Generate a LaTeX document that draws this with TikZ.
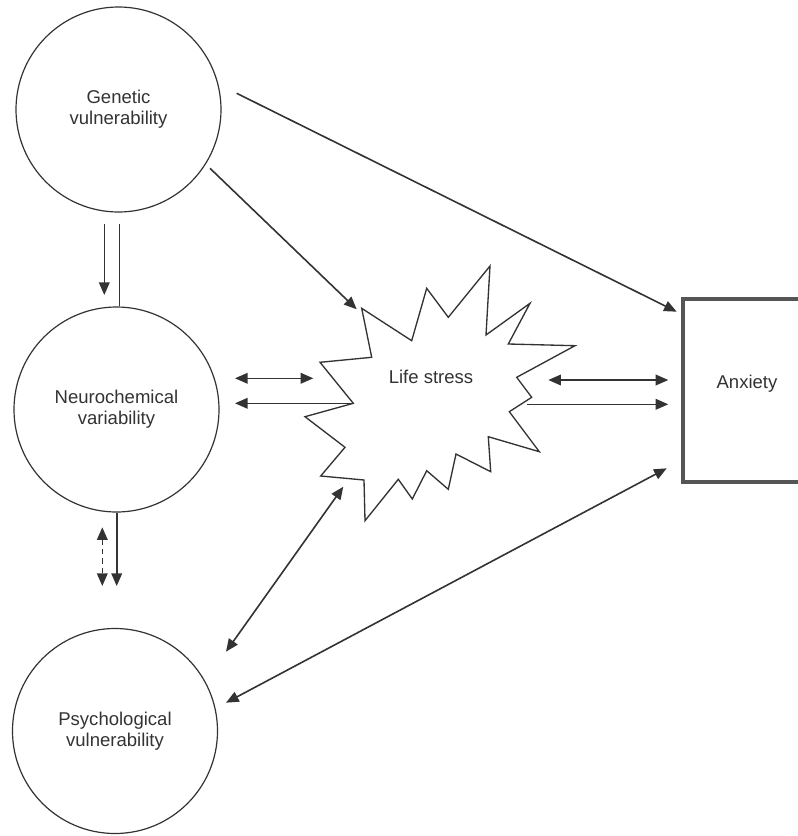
\documentclass[tikz,border=0pt]{standalone}
\usepackage{fontspec}
\setmainfont{Liberation Sans}
\usetikzlibrary{arrows.meta}
\definecolor{ink}{HTML}{333333}
\definecolor{frame}{HTML}{555555}

\begin{document}
\begin{tikzpicture}[x=0.75pt,y=-0.75pt,font=\fontsize{13.9}{16}\selectfont,
  factor/.style={draw=ink,line width=0.9pt,circle,minimum size=153.75pt,inner sep=0pt,align=center,text=ink},
  link/.style={draw=ink,line width=1.2pt,-{Triangle[length=9.5pt,width=8pt]}},
  twoway/.style={link,{Triangle[length=9.5pt,width=8pt]}-{Triangle[length=9.5pt,width=8pt]}},
  plain/.style={draw=ink,line width=1.2pt}]
\clip (0,0) rectangle (798,836);
\fill[white] (0,0) rectangle (798,836);

\node[factor] (gen) at (118.5,109.5) {Genetic\\vulnerability};
\node[factor] (neu) at (116.5,409.5) {Neurochemical\\variability};
\node[factor] (psy) at (115,731) {Psychological\\vulnerability};

\draw[draw=ink,line width=1pt,fill=white] (361.7,308.3) -- (411.7,340.7) -- (426.7,288.3) -- (448.3,317.3)
  -- (490,266) -- (486,335) -- (530,303.3) -- (508.3,344) -- (575,345.7) -- (516.7,377.3)
  -- (531.7,397.3) -- (509.3,411.7) -- (539.3,451.7) -- (488.3,436.7) -- (490.7,471.7) -- (456,454)
  -- (448.3,489.3) -- (426.7,470.7) -- (412.3,499) -- (398.3,479.3) -- (365,520.7) -- (364,480)
  -- (320.7,476) -- (345,447.3) -- (305,416.7) -- (353.3,403.3) -- (320,362.3) -- (371.7,357.3) -- cycle;
\node[text=ink] (life) at (431,377) {Life stress};

\node[draw=frame,line width=3pt,minimum width=95.25pt,minimum height=137.25pt,text=ink] (anx) at (746.5,390.5) {};
\node[text=ink] (anxt) at (747,384) {Anxiety};

\coordinate (ga) at (236.7,93.3);   \coordinate (ga') at (676.7,311.7);
\coordinate (gl) at (210,168.3);    \coordinate (gl') at (356.7,309.3);
\coordinate (gn) at (104.3,224);    \coordinate (gn') at (104.3,295);
\coordinate (gm) at (119.3,224);
\coordinate (nl) at (235,378.3);    \coordinate (nl') at (313.3,378.3);
\coordinate (ln) at (353.3,403.3);  \coordinate (ln') at (235,403.3);
\coordinate (la) at (548.3,380);    \coordinate (la') at (668.3,380);
\coordinate (lb) at (527,404.3);    \coordinate (lb') at (668.3,404.3);
\coordinate (np) at (102.3,527.3);  \coordinate (np') at (102.3,586);
\coordinate (nq) at (116.7,586);
\coordinate (pl) at (226,651.7);    \coordinate (pl') at (343.3,486.7);
\coordinate (pa) at (226,702.7);    \coordinate (pa') at (666.7,468.3);

\draw[link] (ga) -- (ga');
\draw[link] (gl) -- (gl');
\draw[link] (gn) -- (gn');
\draw[plain] (gm) -- (gm |- neu.north);
\draw[twoway] (nl) -- (nl');
\draw[link] (ln) -- (ln');
\draw[twoway] (la) -- (la');
\draw[link] (lb) -- (lb');
\draw[twoway,dash pattern=on 4pt off 3pt] (np) -- (np');
\draw[link] (nq |- neu.south) -- (nq);
\draw[twoway] (pl) -- (pl');
\draw[twoway] (pa) -- (pa');
\end{tikzpicture}
\end{document}
